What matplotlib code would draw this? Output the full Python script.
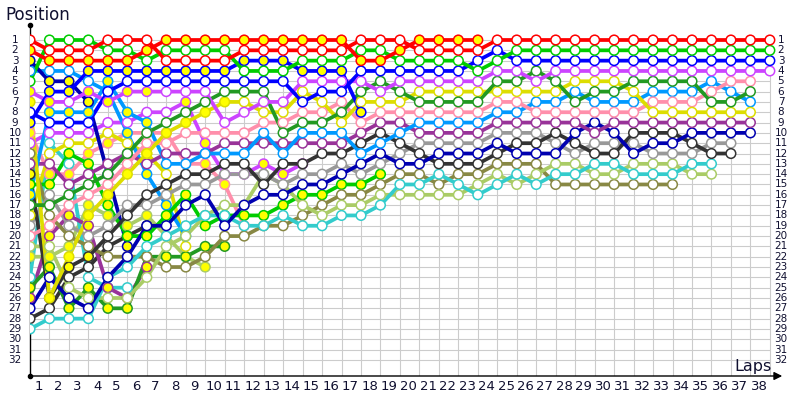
import matplotlib
matplotlib.use('Agg')
import matplotlib.pyplot as plt

N = None
laps = list(range(0, 39))
positions = list(range(1, 33))
x_labels = [str(i) for i in range(1, 39)]

# ---- positions per lap (index = lap), None = not running ----
red_a = [1,2,2,2,1,1,1,3,3,3,3,2,2,2,2,2,2,1, 1,1,2,2,2,2,1,1,1,1,1,1,1,1,1,1,1,1,1,1,1]
red_b = [2,3,3,3,3,3,2,1,1,1,1,1,1,1,1,1,1,3, 3,2,1,1,1,1]
green_a = [5,1,1,1,2,2,3,2,2,2,2,4,4,4,3,3,3,2, 2,3,3,3,3,4,3,2,2,2,2,2,2,2,2,2,2,2,2,2,2]
blue_w = [8,9,9,9,6,5,5,5,5,5,5,5,5,5,7,6,6,4, 4,4,4,4,4,3,2,3,3,3,3,3,3,3,3,3,3,3,3,3,3]
blue_y = [9,6,6,4,4,4,4,4,4,4,4,3,3,3,4,4,4,8]
violet_a = [6,7,7,6,7,6,6,6,6,6,9,8,7,7,5,5,5,5, 6,5,5,5,5,5,4,4,5,4,4,4,4,4,4,4,4,4,4,4,4]
dkgreen_a = [17,17,16,15,14,12,10,9,8,7,6,6,6,10,9,9,8,6, 5,6,7,7,7,7,5,5,4,5,7,6,6,5,5,5,5,7,7,6]
yellow_a = [7,26,22,18,16,14,12,10,9,8,7,7,8,8,6,7,9,7, 7,7,6,6,6,6,6,6,6,6,5,5,5,6,8,8,8,8,8,8]
pink_b = [20,19,17,16,15,13,11,11,10,10,10,10,9,9,8,8,7,9, 8,8,8,8,8,8,7,7,8,8,8,8,8,8,7,7,7,6,5,5]
sky_b = [16,8,8,8,5,8,9,13,13,12,12,12,10,12,10,10,10,12, 11,10,9,9,9,9,8,8,7,7,6,7,7,7,6,6,6,5,6,7]
dkpurple_a = [13,13,15,14,13,12,13,12,12,12,11,11,11,11,11,11,11,10, 9,9,10,10,10,10,9,9,9,9,9,10,9,9,9,9,9,9,9,9]
navy_b = [27,24,26,27,24,22,19,19,17,16,19,17,16,16,15,15,14,13, 12,13,13,12,12,12,11,12,12,12,10,9,10,12,11,11,10,10,10,10]
dkgray_a = [14,26,23,22,20,18,16,15,14,14,13,13,15,13,13,12,12,11, 10,11,12,13,13,13,12,11,11,10,11,12,12,10,10,10,11,12,12]
ltgray_a = [19,16,19,20,19,17,17,16,15,15,14,14,14,15,14,14,13,14, 13,12,11,11,11,11,10,10,10,11,12,11,11,11,12,12,12,11,11]
cyan_a = [29,28,28,28,24,23,21,20,19,18,18,19,19,18,19,19,18,18, 17,15,15,14,15,16,15,14,15,14,14,13,13,14,14,14,13,13]
ltgreen_a = [21,21,25,26,26,26,24,21,20,18,17,17,14,15,17,18,17,17, 16,16,16,16,16,15,14,15,14,13,13,14,14,13,13,13,14,14]
olive_a = [12,18,20,21,22,22,22,23,23,22,20,20,19,19,18,17,16,16, 15,14,14,15,14,14,13,13,13,15,15,15,15,15,15,15]
green_b = [15,15,12,13,17,20,20,18,16,19,18,18,18,17,16,16,15,15,14]
navy_a = [3,5,5,7,14,21]
sky_a = [4,4,4,5,6,10,14,17,20]
violet_b = [11,10,10,10,9,9,8,8,7,11,14,14,13,14,13]
yellow_b = [18,12,11,11,10,11,12,14,21]
dkgreen_b = [25,23,27,25,27,27,22,22,22,21,21]
pink_a = [10,14,14,12,11,10,10,10,13,13,15,19]
dkpurple_b = [26,20,18,19,25,26,23]
dkgray_b = [28,27,24,23,21,20,19]
cyan_b = [24,11,13,24,25,25]
ltgreen_b = [22,22,21,17,18,19,18,20,22,23]

# laps drawn with a yellow marker (first, last inclusive)
yel = {
    'red_b': [(0, 23)], 'blue_y': [(0, 17)], 'navy_a': [(0, 5)], 'sky_a': [(4, 8)],
    'sky_b': [(0, 6)], 'violet_a': [(0, 1), (3, 6)], 'violet_b': [(8, 14)],
    'yellow_a': [(0, 10)], 'dkgreen_b': [(0, 10)], 'pink_a': [(0, 11)],
    'dkpurple_b': [(0, 6)], 'dkgray_a': [(0, 3)], 'green_b': [(0, 18)],
    'ltgreen_b': [(0, 9)],
}

series = [
    ('ltgreen_b', '#aacc66', ltgreen_b), ('cyan_b', '#33cccc', cyan_b),
    ('dkgray_b', '#333333', dkgray_b), ('dkpurple_b', '#993399', dkpurple_b),
    ('pink_a', '#ff8fab', pink_a), ('dkgreen_b', '#229922', dkgreen_b),
    ('yellow_b', '#dddd00', yellow_b), ('violet_b', '#cc44ff', violet_b),
    ('sky_a', '#0099ff', sky_a), ('navy_a', '#0000b0', navy_a),
    ('green_b', '#00cc00', green_b), ('olive_a', '#888844', olive_a),
    ('ltgreen_a', '#aacc66', ltgreen_a), ('cyan_a', '#33cccc', cyan_a),
    ('ltgray_a', '#999999', ltgray_a), ('dkgray_a', '#333333', dkgray_a),
    ('navy_b', '#0000b0', navy_b), ('dkpurple_a', '#993399', dkpurple_a),
    ('sky_b', '#0099ff', sky_b), ('pink_b', '#ff8fab', pink_b),
    ('yellow_a', '#dddd00', yellow_a), ('dkgreen_a', '#229922', dkgreen_a),
    ('violet_a', '#cc44ff', violet_a), ('blue_y', '#0000ff', blue_y),
    ('blue_w', '#0000ff', blue_w), ('green_a', '#00cc00', green_a),
    ('red_b', '#ff0000', red_b), ('red_a', '#ff0000', red_a),
]

fig = plt.figure(figsize=(8, 4), dpi=100)
px_lap = 19.47
px_pos = 10.32
ax = fig.add_axes([30/800, 24/400, 755/800, 351/400])
x_max = 755/px_lap
y_bottom = 1 + 336/px_pos
y_top = 1 - 15/px_pos
ax.set_xlim(0, x_max)
ax.set_ylim(y_bottom, y_top)
ax.axis('off')

grid_c = '#cccccc'
ax.hlines(positions, 0, laps[-1], colors=grid_c, lw=0.8, zorder=1)
ax.vlines(laps[1:], positions[0], y_bottom, colors=grid_c, lw=0.8, zorder=1)

# axes
ax.plot([0, 0], [y_bottom, y_top], color='black', lw=1, zorder=2, clip_on=False)
ax.plot([0], [y_top], marker='o', ms=3, color='black', clip_on=False, zorder=3)
ax.plot([0], [y_bottom], marker='o', ms=3, color='black', clip_on=False, zorder=3)
ax.annotate('', xy=(x_max, y_bottom), xytext=(0, y_bottom),
            arrowprops=dict(arrowstyle='-|>', color='black', lw=1, mutation_scale=12),
            annotation_clip=False, zorder=3)

for name, color, pos in series:
    xs = [i for i, p in enumerate(pos) if p is not None]
    ys = [p for p in pos if p is not None]
    ax.plot(xs, ys, color=color, lw=2.7, solid_capstyle='round', zorder=4)
    fcs = []
    for i in xs:
        isy = any(a <= i <= b for a, b in yel.get(name, []))
        fcs.append('#ffff00' if isy else 'white')
    ax.scatter(xs, ys, s=48, facecolors=fcs, edgecolors=color, linewidths=1.1, zorder=5)

lab_c = '#101030'
for p in positions:
    ax.text((15-30)/px_lap, p, str(p), ha='center', va='center', fontsize=7.5, color=lab_c)
    ax.text((781-30)/px_lap, p, str(p), ha='center', va='center', fontsize=7.5, color=lab_c)
for i, t in enumerate(x_labels):
    ax.text(i + 1 - 0.55, y_bottom + 11/px_pos, t, ha='center', va='center',
            fontsize=9.5, color=lab_c, clip_on=False)

fig.text(5/800, 1 - 15/400, 'Position', ha='left', va='center', fontsize=12, color='#101030')
fig.text(753/800, 1 - 366/400, 'Laps', ha='center', va='center', fontsize=11.5, color='#101030')

fig.savefig('out.png', dpi=100)
